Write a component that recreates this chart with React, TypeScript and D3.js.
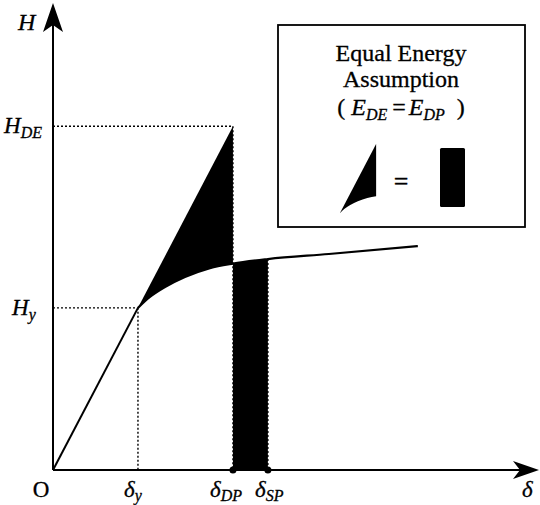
import React from 'react';
import * as d3 from 'd3';

// Capacity (pushover) curve, in units of delta_y and H_y
const capDelta = [1, 1.141, 1.318, 1.553, 1.847, 2.118, 2.529, 3.247, 4.294];
const capH = [1, 1.067, 1.128, 1.19, 1.245, 1.273, 1.301, 1.332, 1.381];

const deltaYield = 1;
const hYield = 1;
const deltaDP = 2.118;
const hDE = 2.12;
const deltaSP = 2.529;
const deltaMax = 5.72;
const hMax = 2.88;

const legendLines = ['Equal Energy', 'Assumption'];

const FONT = '"Liberation Serif", "Times New Roman", Times, serif';

export default function App() {
  const x = d3.scaleLinear().domain([0, deltaMax]).range([53, 539]);
  const y = d3.scaleLinear().domain([0, hMax]).range([470, 3]);

  const pts: [number, number][] = capDelta.map((d, i) => [d, capH[i]]);
  const line = d3
    .line<[number, number]>()
    .x((d) => x(d[0]))
    .y((d) => y(d[1]))
    .curve(d3.curveMonotoneX);
  const capPath = line(pts) as string;
  const last = pts[pts.length - 1];
  const aboveClip = `${capPath}L${x(last[0])},0L${x(capDelta[0])},0Z`;
  const underClip = `${capPath}L${x(last[0])},${y(0)}L${x(capDelta[0])},${y(0)}Z`;

  const triPoly = [
    [deltaYield, hYield],
    [deltaDP, hDE],
    [deltaDP, 0.9],
  ]
    .map((p) => `${x(p[0])},${y(p[1])}`)
    .join(' ');

  const x0 = x(0);
  const y0 = y(0);
  const xTip = x(deltaMax);
  const yTip = y(hMax);

  const s = 0.38;
  const miniT = `translate(${340 - x(deltaYield) * s},${213 - y(hYield) * s}) scale(${s})`;

  const dotted = { stroke: '#000', strokeWidth: 1.4, strokeDasharray: '2,2', fill: 'none' };
  const txt = { fontFamily: FONT, fill: '#000', stroke: '#000', strokeWidth: 0.3 };

  const triangle = (id: string) => (
    <g>
      <defs>
        <clipPath id={id}>
          <path d={aboveClip} />
        </clipPath>
      </defs>
      <polygon points={triPoly} fill="#000" clipPath={`url(#${id})`} />
    </g>
  );

  const spIdx = capDelta.indexOf(deltaSP);

  return (
    <svg
      width={540}
      height={505}
      style={{ position: 'absolute', left: 0, top: 0, background: '#fff', fontFamily: FONT }}
    >
      <defs>
        <clipPath id="under">
          <path d={underClip} />
        </clipPath>
      </defs>

      {/* dotted guides */}
      <line x1={x0} y1={y(hDE)} x2={x(deltaDP)} y2={y(hDE)} style={dotted} />
      <line x1={x(deltaDP)} y1={y(hDE)} x2={x(deltaDP)} y2={y0} style={dotted} />
      <line x1={x0} y1={y(hYield)} x2={x(deltaYield)} y2={y(hYield)} style={dotted} />
      <line x1={x(deltaYield)} y1={y(hYield)} x2={x(deltaYield)} y2={y0} style={dotted} />
      <line x1={x(deltaSP)} y1={y(capH[spIdx])} x2={x(deltaSP)} y2={y0} style={dotted} />

      {/* black triangle area (elastic minus capacity) */}
      {triangle('aboveMain')}

      {/* black rectangle area under capacity curve */}
      <rect
        x={x(deltaDP)}
        y={y(1.6)}
        width={x(deltaSP) - x(deltaDP)}
        height={y0 - y(1.6)}
        fill="#000"
        clipPath="url(#under)"
      />

      {/* elastic line to yield */}
      <line x1={x0} y1={y0} x2={x(deltaYield)} y2={y(hYield)} stroke="#000" strokeWidth={2} />
      {/* capacity curve */}
      <path d={capPath} fill="none" stroke="#000" strokeWidth={2.2} />

      {/* axes */}
      <line x1={x0} y1={y0} x2={xTip - 12} y2={y0} stroke="#000" strokeWidth={2} />
      <polygon
        points={`${xTip},${y0} ${xTip - 26},${y0 - 9} ${xTip - 19},${y0} ${xTip - 26},${y0 + 9}`}
        fill="#000"
      />
      <line x1={x0} y1={y0} x2={x0} y2={yTip + 12} stroke="#000" strokeWidth={2} />
      <polygon
        points={`${x0},${yTip} ${x0 - 10},${yTip + 29} ${x0},${yTip + 22} ${x0 + 10},${yTip + 29}`}
        fill="#000"
      />

      {/* dots on x axis */}
      <circle cx={x(deltaDP)} cy={y0} r={3.5} fill="#000" />
      <circle cx={x(deltaSP)} cy={y0} r={3.5} fill="#000" />

      {/* axis labels */}
      <text x={18} y={30} fontSize={24} fontStyle="italic" style={txt}>H</text>
      <text x={4} y={133} fontSize={23} fontStyle="italic" style={txt}>
        H<tspan fontSize={16} dy={5}>DE</tspan>
      </text>
      <text x={12} y={315} fontSize={23} fontStyle="italic" style={txt}>
        H<tspan fontSize={16} dy={5}>y</tspan>
      </text>
      <text x={41} y={497} fontSize={23} textAnchor="middle" style={txt}>O</text>
      <text x={124} y={497} fontSize={23} fontStyle="italic" style={txt}>
        δ<tspan fontSize={16} dy={4}>y</tspan>
      </text>
      <text x={210} y={497} fontSize={23} fontStyle="italic" style={txt}>
        δ<tspan fontSize={16} dy={4}>DP</tspan>
      </text>
      <text x={255} y={497} fontSize={23} fontStyle="italic" style={txt}>
        δ<tspan fontSize={16} dy={4}>SP</tspan>
      </text>
      <text x={522} y={497} fontSize={23} fontStyle="italic" style={txt}>δ</text>

      {/* legend box */}
      <rect x={278} y={25} width={247} height={202} fill="#fff" stroke="#000" strokeWidth={1.8} />
      {legendLines.map((t, i) => (
        <text key={t} x={401} y={61 + i * 26} fontSize={24} textAnchor="middle" style={txt}>
          {t}
        </text>
      ))}
      <text x={401} y={115} fontSize={24} textAnchor="middle" style={txt}>
        (<tspan dx={6} fontStyle="italic">E</tspan>
        <tspan fontSize={16} fontStyle="italic" dy={5}>DE</tspan>
        <tspan dy={-5} dx={5}>=</tspan>
        <tspan dx={3} fontStyle="italic">E</tspan>
        <tspan fontSize={16} fontStyle="italic" dy={5}>DP</tspan>
        <tspan dy={-5} dx={12}>)</tspan>
      </text>

      {/* legend mini triangle */}
      <g transform={miniT}>{triangle('aboveMini')}</g>
      <text x={401} y={190} fontSize={26} textAnchor="middle" style={txt}>=</text>
      <rect x={440} y={148} width={25} height={59} rx={1.5} fill="#000" />
    </svg>
  );
}
